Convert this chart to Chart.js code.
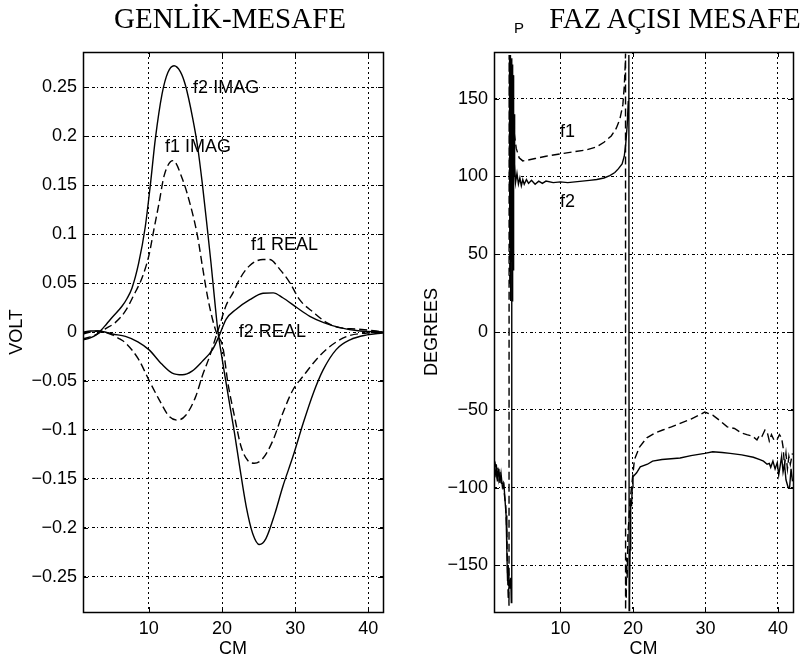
<!DOCTYPE html>
<html><head><meta charset="utf-8">
<script src="https://cdn.jsdelivr.net/npm/chart.js@4"></script>
<style>
html,body{margin:0;padding:0;background:#fff;}
#wrap{position:relative;width:811px;height:662px;overflow:hidden;background:#fff;}
canvas{position:absolute;top:0;}
.t{position:absolute;font-family:"Liberation Serif","Times New Roman",serif;color:#000;white-space:nowrap;text-align:center;}
</style></head><body>
<div id="wrap">
<canvas id="c1" width="405" height="662" style="left:0"></canvas>
<canvas id="c2" width="406" height="662" style="left:405px"></canvas>
<div class="t" style="left:80px;width:300px;top:4px;font-size:29px;line-height:29px">GENLİK-MESAFE</div>
<div class="t" style="left:525px;width:300px;top:4px;font-size:28.5px;line-height:29px">FAZ AÇISI MESAFE</div>
<div style="position:absolute;left:514px;top:20px;font-family:'Liberation Sans';font-size:15px;line-height:15px">P</div>
</div>
<script>
// ---------- DATA ----------
const xTicks = [10, 20, 30, 40];
const xTickLabels = ['10', '20', '30', '40'];

const voltTicks = [-0.25, -0.2, -0.15, -0.1, -0.05, 0, 0.05, 0.1, 0.15, 0.2, 0.25];
const voltTickLabels = ['\u22120.25', '\u22120.2', '\u22120.15', '\u22120.1', '\u22120.05', '0', '0.05', '0.1', '0.15', '0.2', '0.25'];

const degTicks = [-150, -100, -50, 0, 50, 100, 150];
const degTickLabels = ['\u2212150', '\u2212100', '\u221250', '0', '50', '100', '150'];

// GENLİK-MESAFE series
const f2ImagX = [1, 2, 2.8, 3.5, 4.2, 5, 6.3, 7, 7.7, 8.6, 9.5, 10.2, 10.9, 11.8, 12.6, 13.44, 14.3, 15.0, 16.0, 16.65, 17.3, 18.0, 18.5, 19.0, 19.45, 19.9, 20.4, 21.0, 21.7, 22.4, 23.3, 24.2, 25.1, 26.0, 27.2, 28.3, 29.7, 31.1, 32.5, 33.8, 35.6, 37.5, 39.8, 42];
const f2ImagY = [-0.008, -0.006, -0.003, 0.002, 0.008, 0.015, 0.026, 0.034, 0.045, 0.07, 0.107, 0.15, 0.198, 0.243, 0.265, 0.272, 0.266, 0.252, 0.218, 0.19, 0.152, 0.105, 0.07, 0.032, 0.0, -0.022, -0.045, -0.072, -0.103, -0.137, -0.178, -0.206, -0.217, -0.211, -0.186, -0.158, -0.127, -0.093, -0.062, -0.039, -0.018, -0.008, -0.003, -0.001];

const f1ImagX = [1, 2, 3, 4, 5.4, 6.8, 7.9, 9.1, 10, 10.7, 11.4, 12.1, 13.3, 14.6, 15.7, 16.65, 17.3, 18.0, 18.7, 19.3, 20.1, 20.8, 21.7, 22.6, 23.5, 24.4, 25.6, 27.0, 28.3, 29.7, 31.1, 32.9, 34.7, 37.1, 39.8, 42];
const f1ImagY = [-0.007, -0.005, -0.002, 0.003, 0.0096, 0.0215, 0.037, 0.056, 0.078, 0.105, 0.132, 0.16, 0.175, 0.156, 0.129, 0.098, 0.068, 0.037, 0.013, -0.002, -0.015, -0.052, -0.086, -0.117, -0.131, -0.134, -0.129, -0.11, -0.083, -0.059, -0.045, -0.028, -0.015, -0.0044, -0.001, 0.0];

const f1RealX = [1, 2, 3, 4, 5, 6, 6.8, 8.6, 10, 11.4, 12.75, 13.9, 15.05, 16.4, 17.3, 18.3, 19.2, 19.6, 20.55, 21.5, 22.4, 23.8, 25.6, 26.5, 27.9, 29.3, 30.6, 32.5, 34.3, 36.1, 38.4, 41.1, 42];
const f1RealY = [-0.002, 0.0, 0.001, 0.0, -0.003, -0.007, -0.011, -0.028, -0.049, -0.069, -0.086, -0.09, -0.085, -0.066, -0.045, -0.025, -0.004, 0.005, 0.027, 0.04, 0.054, 0.068, 0.074, 0.074, 0.064, 0.05, 0.033, 0.02, 0.0096, 0.0044, 0.003, 0.001, 0.0];

const f2RealX = [1, 2, 3, 4, 5, 6.8, 8.5, 10, 11.8, 13.2, 14.6, 15.9, 17.3, 18.7, 19.6, 20.55, 21.9, 23.8, 25.6, 27, 28.3, 30.2, 32, 33.9, 36.1, 38.9, 42];
const f2RealY = [0.0, 0.001, 0.001, 0.0, -0.002, -0.0044, -0.01, -0.018, -0.033, -0.042, -0.0437, -0.04, -0.03, -0.018, -0.004, 0.013, 0.023, 0.033, 0.0396, 0.04, 0.035, 0.025, 0.016, 0.0096, 0.0044, 0.001, 0.0];

// FAZ AÇISI MESAFE series
const phaseF1X = [0.83, 1.0, 1.2, 1.35, 1.5, 1.7, 1.9, 2.1, 2.3, 2.45, 2.6, 2.7, 2.8, 2.85, 2.9,
  2.92, 2.95, 2.98, 3.01, 3.04, 3.07, 3.1, 3.13, 3.16, 3.19, 3.22, 3.25, 3.28, 3.31, 3.34, 3.37, 3.4, 3.43, 3.46, 3.5, 3.55, 3.62, 3.7, 3.9, 4.3, 4.8, 5.5, 6.5, 8, 10, 12, 13.5, 15, 16, 17, 17.7, 18.2, 18.6, 18.8, 18.93, 18.97,
  18.98, 19.02, 19.07, 19.12, 19.2, 19.3, 19.45, 19.6, 19.82, 20.2, 20.9, 21.9, 23, 24.1, 25.3, 26.5, 28, 29.9, 31, 32, 33, 34, 35, 35.7, 36.5, 37.1, 37.5, 37.8, 38.2, 38.5, 38.8, 39.1, 39.5, 39.9, 40.2, 40.5, 40.7, 40.9, 41.1, 41.3, 41.5, 41.7, 42];
const phaseF1Y = [-88, -85, -92, -87, -95, -90, -99, -97, -106, -112, -130, -155, -172, -160, -176,
  178, 90, 176, 30, 170, 60, 178, 20, 165, 80, 175, 100, 160, 45, 170, 110, 150, 90, 165, 120, 140, 122, 125, 118, 112, 110, 110.5, 111.5, 113, 114.5, 116, 117, 119, 122, 126, 131, 137, 146, 158, 172, 179,
  -179, -160, -172, -145, -158, -130, -120, -108, -99, -82, -74, -68, -65, -63, -61, -58.7, -56, -51.5, -53.5, -57, -61, -62, -65, -66, -67, -69.4, -66, -67, -63, -64, -70, -66, -70, -69, -66, -68, -74, -86, -78, -88, -80, -85, -78];

const phaseF2X = [0.83, 1.0, 1.15, 1.3, 1.5, 1.65, 1.8, 2.0, 2.2, 2.35, 2.5, 2.6, 2.7, 2.78, 2.85, 3.0, 3.15, 3.22,
  3.25, 3.28, 3.31, 3.34, 3.37, 3.4, 3.43, 3.46, 3.49, 3.52, 3.55, 3.58, 3.61, 3.65, 3.7, 3.8, 4.0, 4.2, 4.4, 4.6, 4.8, 5.0, 5.3, 5.6, 6.0, 6.5, 7, 7.5, 8, 9, 10, 11, 12, 13, 14, 15, 16, 16.8, 17.5, 18, 18.5, 18.8, 19.0, 19.2, 19.35, 19.42,
  19.44, 19.47, 19.5, 19.55, 19.6, 19.65, 19.72, 19.8, 19.9, 20, 20.5, 21, 22, 22.7, 24, 26.5, 28, 29.9, 31, 32.3, 33.4, 35, 36.6, 37.5, 38, 38.5, 38.8, 39, 39.3, 39.6, 39.9, 40.1, 40.3, 40.5, 40.7, 40.9, 41.1, 41.4, 41.6, 41.8, 42];
const phaseF2Y = [-90, -92, -85, -96, -88, -97, -91, -100, -98, -108, -118, -140, -160, -150, -150, -165, -158, -174,
  176, 30, 168, 20, 172, 60, 160, 40, 150, 85, 165, 95, 140, 100, 108, 96, 102, 95, 99, 94, 98, 95, 98, 95.5, 97.5, 95, 97, 95.5, 97, 96, 96.5, 96, 96.5, 97, 97.5, 98, 99, 100.5, 102.5, 105, 108, 113, 121, 133, 148, 163, 178,
  -179, -160, -170, -140, -120, -108, -112, -100, -93, -90.5, -86.7, -85, -83, -82, -81, -79.5, -78, -77, -77.5, -78, -79, -80.5, -82, -83, -85, -84.5, -87, -83, -88, -84, -92, -86, -80, -90, -85, -95, -100, -100, -88, -96, -90];

// In-plot text labels (data coordinates)
const voltLabels = [
  { text: 'f2 IMAG', x: 16.05, y: 0.249 },
  { text: 'f1 IMAG', x: 12.2, y: 0.189 },
  { text: 'f1 REAL', x: 23.96, y: 0.0893 },
  { text: 'f2 REAL', x: 22.3, y: 0.0 }
];
const degLabels = [
  { text: 'f1', x: 9.93, y: 128.5 },
  { text: 'f2', x: 9.93, y: 83.5 }
];

// ---------- CHARTS ----------
const FONT = 'Liberation Sans';
const FSIZE = 18;
Chart.defaults.font.family = FONT;
Chart.defaults.font.size = FSIZE;
Chart.defaults.color = '#000';

const pts = (xs, ys) => xs.map((x, i) => ({ x: x, y: ys[i] }));

const decoPlugin = {
  id: 'deco',
  afterDatasetsDraw(chart, args, opts) {
    const { ctx, chartArea: a, scales } = chart;
    const xs = scales.x, ys = scales.y;
    ctx.save();
    ctx.strokeStyle = '#000';
    ctx.lineWidth = 1;
    const L = 5;
    ctx.beginPath();
    ys.ticks.forEach(t => {
      const p = Math.round(ys.getPixelForValue(t.value)) + 0.5;
      ctx.moveTo(a.left, p); ctx.lineTo(a.left + L, p);
      ctx.moveTo(a.right - L, p); ctx.lineTo(a.right, p);
    });
    xs.ticks.forEach(t => {
      const p = Math.round(xs.getPixelForValue(t.value)) + 0.5;
      ctx.moveTo(p, a.bottom); ctx.lineTo(p, a.bottom - L);
      ctx.moveTo(p, a.top); ctx.lineTo(p, a.top + L);
    });
    ctx.stroke();
    ctx.lineWidth = 1.5;
    ctx.strokeRect(Math.round(a.left) + 0.5, Math.round(a.top) + 0.5, Math.round(a.right - a.left), Math.round(a.bottom - a.top));
    ctx.fillStyle = '#000';
    ctx.font = FSIZE + 'px "' + FONT + '"';
    ctx.textAlign = 'left';
    ctx.textBaseline = 'middle';
    (opts.labels || []).forEach(l => {
      ctx.fillText(l.text, xs.getPixelForValue(l.x), ys.getPixelForValue(l.y));
    });
    ctx.restore();
  }
};

function makeChart(id, cfg) {
  const ds = cfg.series.map(s => ({
    data: pts(s.x, s.y),
    showLine: true,
    borderColor: '#000',
    borderWidth: 1.4,
    borderDash: s.dashed ? [8, 4] : [],
    pointRadius: 0,
    fill: false,
    cubicInterpolationMode: cfg.smooth ? 'monotone' : 'default',
    tension: 0
  }));
  return new Chart(document.getElementById(id), {
    type: 'scatter',
    data: { datasets: ds },
    plugins: [decoPlugin],
    options: {
      responsive: false,
      animation: false,
      events: [],
      layout: { padding: { left: 0, top: 52, right: cfg.padRight, bottom: 0 } },
      plugins: { legend: { display: false }, tooltip: { enabled: false }, deco: { labels: cfg.labels } },
      scales: {
        x: {
          type: 'linear', position: 'bottom', min: cfg.xMin, max: cfg.xMax,
          afterBuildTicks: s => { s.ticks = xTicks.map(v => ({ value: v })); },
          afterFit: s => { s.height = 50; },
          ticks: { autoSkip: false, maxRotation: 0, padding: 6, callback: (v, i) => xTickLabels[i] },
          grid: { color: '#000', lineWidth: 1, drawTicks: false },
          border: { display: false, dash: [2, 3] },
          title: { display: true, text: 'CM', padding: { top: 0, bottom: 2 } }
        },
        y: {
          type: 'linear', position: 'left', min: cfg.yMin, max: cfg.yMax,
          afterBuildTicks: s => { s.ticks = cfg.yTicks.map(v => ({ value: v })); },
          afterFit: s => { s.width = cfg.yWidth; },
          ticks: { autoSkip: false, padding: 6, callback: (v, i) => cfg.yTickLabels[i] },
          grid: { color: '#000', lineWidth: 1, drawTicks: false },
          border: { display: false, dash: [3, 2, 1, 3] },
          title: { display: true, text: cfg.yTitle, padding: { top: cfg.yTitlePad, bottom: 0 } }
        }
      }
    }
  });
}

makeChart('c1', {
  series: [
    { x: f2ImagX, y: f2ImagY, dashed: false },
    { x: f1ImagX, y: f1ImagY, dashed: true },
    { x: f1RealX, y: f1RealY, dashed: true },
    { x: f2RealX, y: f2RealY, dashed: false }
  ],
  smooth: true,
  labels: voltLabels,
  xMin: 1, xMax: 42, yMin: -0.286, yMax: 0.286,
  yTicks: voltTicks, yTickLabels: voltTickLabels,
  yWidth: 83, padRight: 22, yTitle: 'VOLT', yTitlePad: 6
});

makeChart('c2', {
  series: [
    { x: phaseF1X, y: phaseF1Y, dashed: true },
    { x: phaseF2X, y: phaseF2Y, dashed: false }
  ],
  smooth: false,
  labels: degLabels,
  xMin: 0.83, xMax: 42.07, yMin: -180, yMax: 180,
  yTicks: degTicks, yTickLabels: degTickLabels,
  yWidth: 89, padRight: 18, yTitle: 'DEGREES', yTitlePad: 16
});
</script>
</body></html>
